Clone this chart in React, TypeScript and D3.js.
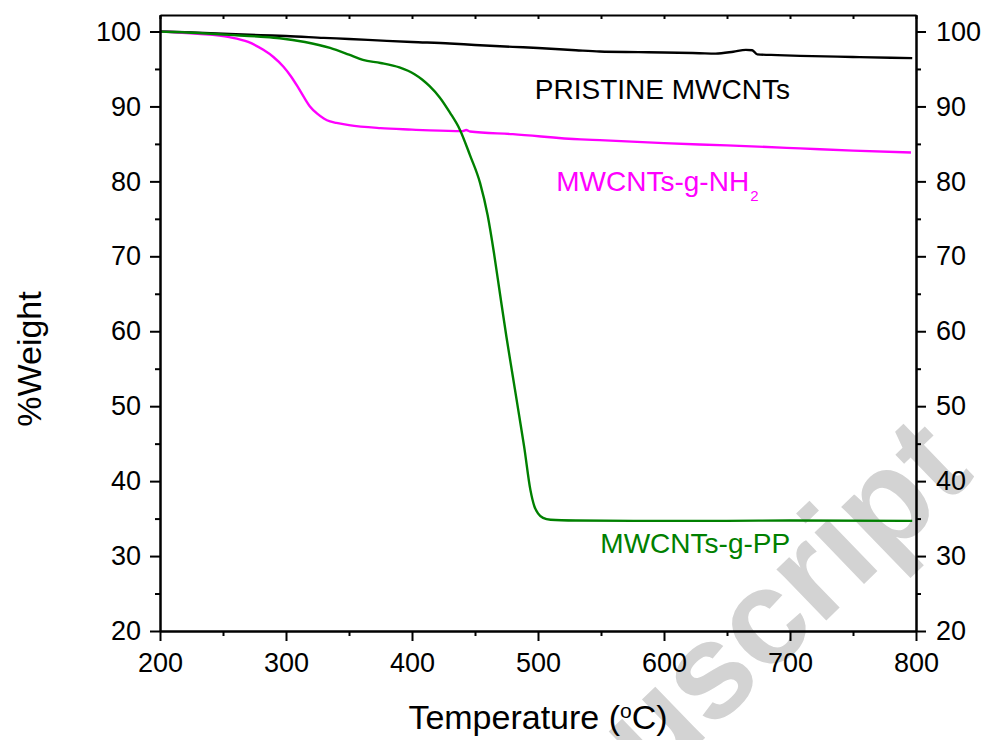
import React, { useRef, useEffect } from 'react';
import * as d3 from 'd3';

// temperatures (°C) and % weight
const pristineTemp = [200, 220, 250, 280, 300, 330, 350, 380, 400, 430, 450, 480, 500, 530, 549, 580, 600, 628, 641, 655, 665, 670, 674, 690, 708, 750, 780, 797];
const pristineWeight = [100, 99.9, 99.7, 99.5, 99.4, 99.15, 99.0, 98.75, 98.6, 98.4, 98.2, 97.95, 97.8, 97.5, 97.33, 97.25, 97.2, 97.1, 97.05, 97.3, 97.55, 97.5, 96.95, 96.85, 96.75, 96.6, 96.5, 96.45];

const nh2Temp = [200, 230, 255, 270, 282, 290, 298, 304, 309, 314, 319, 325, 330, 335, 340, 350, 375, 400, 414, 440, 443, 446, 480, 534, 549, 600, 650, 708, 750, 796];
const nh2Weight = [100, 99.7, 99.25, 98.6, 97.55, 96.6, 95.3, 94.0, 92.7, 91.3, 90.0, 89.0, 88.4, 88.0, 87.8, 87.5, 87.1, 86.9, 86.8, 86.7, 86.85, 86.65, 86.3, 85.6, 85.5, 85.1, 84.8, 84.4, 84.1, 83.85];

const ppTemp = [200, 230, 255, 280, 295, 315, 335, 350, 361, 375, 390, 402, 408, 414, 422, 430, 438, 446, 454, 460, 465, 470, 475, 480, 485, 489, 494, 497, 500, 504, 510, 530, 576, 650, 700, 797];
const ppWeight = [100, 99.8, 99.55, 99.3, 99.1, 98.6, 97.8, 96.9, 96.2, 95.8, 95.2, 94.3, 93.6, 92.7, 91.2, 89.2, 86.9, 83.5, 79.8, 75.5, 70.5, 64.8, 59.2, 54.0, 48.8, 44.6, 38.8, 36.7, 35.7, 35.1, 34.85, 34.75, 34.7, 34.7, 34.75, 34.7];

const xTicks = [200, 300, 400, 500, 600, 700, 800];
const xMinorTicks = [250, 350, 450, 550, 650, 750];
const yTicks = [20, 30, 40, 50, 60, 70, 80, 90, 100];
const yMinorTicks = [25, 35, 45, 55, 65, 75, 85, 95];

const series = [
    { name: 'PRISTINE MWCNTs', temp: pristineTemp, weight: pristineWeight, color: '#000000' },
    { name: 'MWCNTs-g-NH', sub: '2', temp: nh2Temp, weight: nh2Weight, color: '#ff00ff' },
    { name: 'MWCNTs-g-PP', temp: ppTemp, weight: ppWeight, color: '#008000' },
];
// label anchor (temperature, weight) of each series name
const labelAt = [[497.5, 91.0], [514.5, 78.75], [549.5, 30.4]];

const FONT = '"Liberation Sans", Arial, sans-serif';

const App = () => {
    const ref = useRef(null);
    const width = 986;
    const height = 740;
    const margin = { left: 160, right: 70, top: 15, bottom: 109 };

    useEffect(() => {
        if (!ref.current) return;
        const svg = d3.select(ref.current);
        svg.selectAll('*').remove();

        const x = d3.scaleLinear().domain([200, 800]).range([margin.left, width - margin.right]);
        const y = d3.scaleLinear().domain([20, 102.2]).range([height - margin.bottom, margin.top]);
        const [x0, x1] = x.range();
        const [y0, y1] = y.range();

        /* watermark */
        svg.append('text')
            .attr('transform', 'translate(976,476) rotate(-44)')
            .attr('text-anchor', 'end')
            .attr('font-family', FONT)
            .attr('font-weight', 'bold')
            .attr('font-size', 135)
            .attr('fill', '#d3d3d3')
            .text('Manuscript');

        /* curves */
        const line = d3.line<[number, number]>()
            .x(d => x(d[0]))
            .y(d => y(d[1]))
            .curve(d3.curveMonotoneX);
        series.forEach(s => {
            svg.append('path')
                .datum(s.temp.map((t, i) => [t, s.weight[i]] as [number, number]))
                .attr('d', line)
                .attr('fill', 'none')
                .attr('stroke', s.color)
                .attr('stroke-width', 2.4);
        });

        /* axes */
        const style = (g: any) => {
            g.select('.domain').attr('stroke-width', 2);
            g.selectAll('.tick line').attr('stroke-width', 2);
            g.attr('font-family', FONT).attr('font-size', 27);
            g.selectAll('.tick text').attr('fill', '#000');
        };
        const noLabel = () => '';

        svg.append('g').attr('transform', `translate(0,${y0})`)
            .call(d3.axisBottom(x).tickValues(xMinorTicks).tickSize(5).tickSizeOuter(0).tickFormat(noLabel)).call(style);
        svg.append('g').attr('transform', `translate(0,${y0})`)
            .call(d3.axisBottom(x).tickValues(xTicks).tickSize(10).tickSizeOuter(0).tickPadding(12)).call(style);
        svg.append('g').attr('transform', `translate(0,${y1})`)
            .call(d3.axisTop(x).tickValues([...xTicks, ...xMinorTicks]).tickSize(-4).tickSizeOuter(0).tickFormat(noLabel)).call(style);

        svg.append('g').attr('transform', `translate(${x0},0)`)
            .call(d3.axisLeft(y).tickValues(yMinorTicks).tickSize(5).tickSizeOuter(0).tickFormat(noLabel)).call(style);
        svg.append('g').attr('transform', `translate(${x0},0)`)
            .call(d3.axisLeft(y).tickValues(yTicks).tickSize(10).tickSizeOuter(0).tickPadding(9)).call(style);
        svg.append('g').attr('transform', `translate(${x1},0)`)
            .call(d3.axisRight(y).tickValues(yMinorTicks).tickSize(5).tickSizeOuter(0).tickFormat(noLabel)).call(style);
        svg.append('g').attr('transform', `translate(${x1},0)`)
            .call(d3.axisRight(y).tickValues(yTicks).tickSize(10).tickSizeOuter(0).tickPadding(10)).call(style);

        /* series labels */
        series.forEach((s, i) => {
            const t = svg.append('text')
                .attr('x', x(labelAt[i][0]))
                .attr('y', y(labelAt[i][1]))
                .attr('font-family', FONT)
                .attr('font-size', 28)
                .attr('fill', s.color)
                .text(s.name);
            if (s.sub) {
                t.append('tspan').attr('font-size', 15).attr('dy', 10).attr('dx', 1).text(s.sub);
            }
        });

        /* axis titles */
        const xt = svg.append('text')
            .attr('x', (x0 + x1) / 2)
            .attr('y', 729)
            .attr('text-anchor', 'middle')
            .attr('font-family', FONT)
            .attr('font-size', 34)
            .text('Temperature (');
        xt.append('tspan').attr('font-size', 21).attr('dy', -11).text('o');
        xt.append('tspan').attr('dy', 11).text('C)');

        svg.append('text')
            .attr('transform', `translate(41,${(y0 + y1) / 2 + 36}) rotate(-90)`)
            .attr('text-anchor', 'middle')
            .attr('font-family', FONT)
            .attr('font-size', 34)
            .text('%Weight');
    }, []);

    return (
        <svg
            ref={ref}
            width={width}
            height={height}
            style={{ position: 'absolute', left: 0, top: 0, background: '#fff' }}
        />
    );
};

export default App;
